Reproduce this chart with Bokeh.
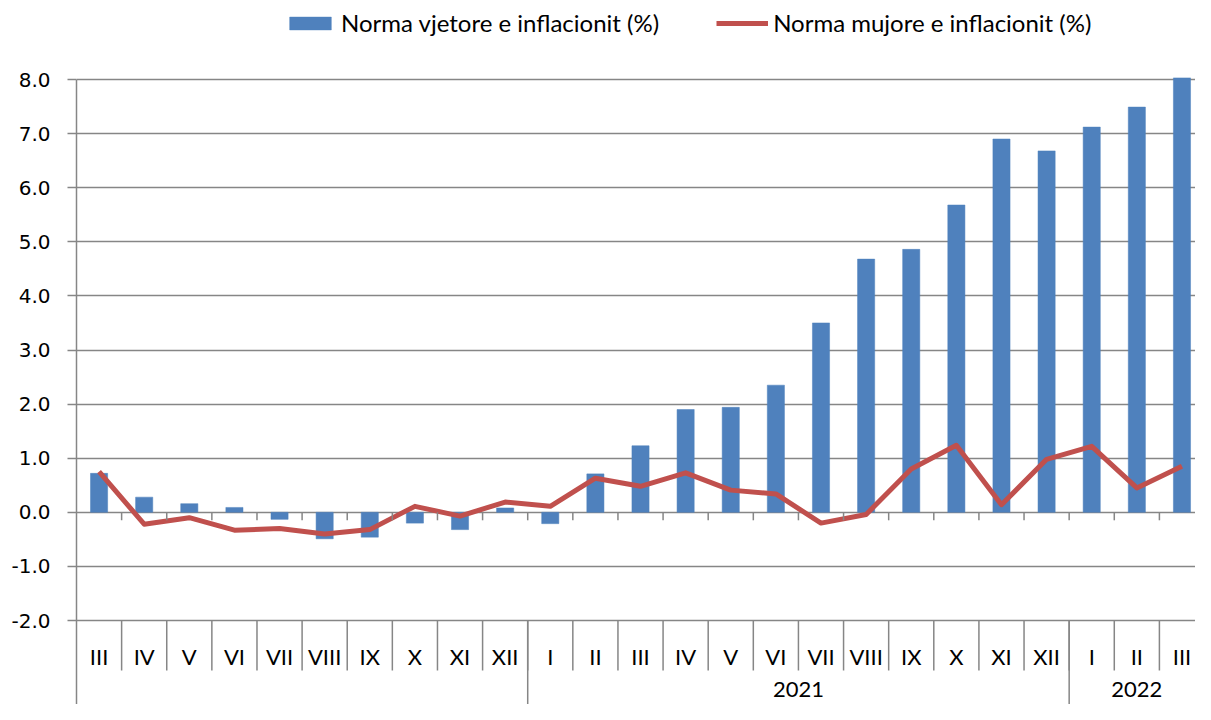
from bokeh.plotting import figure
from bokeh.models import Range1d, FixedTicker, ColumnDataSource, CustomJSTickFormatter
from bokeh.core.properties import value
from bokeh.embed import file_html
from bokeh.resources import INLINE

months = ["III", "IV", "V", "VI", "VII", "VIII", "IX", "X", "XI", "XII",
          "I", "II", "III", "IV", "V", "VI", "VII", "VIII", "IX", "X", "XI", "XII",
          "I", "II", "III"]
annual = [0.72, 0.28, 0.16, 0.09, -0.13, -0.49, -0.46, -0.20, -0.32, 0.08,
          -0.21, 0.71, 1.23, 1.90, 1.94, 2.35, 3.50, 4.68, 4.86, 5.68, 6.90, 6.68,
          7.12, 7.49, 8.03]
monthly = [0.75, -0.22, -0.10, -0.33, -0.30, -0.40, -0.32, 0.11, -0.07, 0.19,
           0.11, 0.63, 0.48, 0.73, 0.41, 0.34, -0.20, -0.04, 0.80, 1.24, 0.14, 0.98,
           1.22, 0.45, 0.85]
year_labels = ["2021", "2022"]
year_sizes = [10, 12, 3]  # 2020 (unlabelled), 2021, 2022
y_ticks = [-2, -1, 0, 1, 2, 3, 4, 5, 6, 7, 8]

n = len(months)
xs = [i + 0.5 for i in range(n)]

GRID = "#868686"
PX = 54.1  # pixels per unit
H = 704
Y_TOP = 8 + 79 / PX
Y_BOT = -2 - (H - 620) / PX

p = figure(width=1195, height=H, output_backend="svg", toolbar_location=None,
           x_axis_type=None,
           x_range=Range1d(0, 24.8), y_range=Range1d(Y_BOT, Y_TOP))
p.min_border = 0
p.min_border_left = 76
p.min_border_right = 0
p.outline_line_color = None
p.background_fill_color = "white"

p.xgrid.visible = False
p.ygrid.ticker = FixedTicker(ticks=y_ticks)
p.ygrid.grid_line_color = GRID
p.ygrid.grid_line_width = 1.5

ya = p.yaxis[0]
ya.ticker = FixedTicker(ticks=y_ticks)
ya.bounds = (Y_BOT, 8)
ya.axis_line_color = GRID
ya.axis_line_width = 1.5
ya.major_tick_line_color = GRID
ya.major_tick_line_width = 1.5
ya.major_tick_out = 9
ya.major_tick_in = 0
ya.minor_tick_line_color = None
ya.major_label_standoff = 17
ya.major_label_text_font = "DejaVu Sans"
ya.major_label_text_font_size = "20px"
ya.major_label_text_color = "black"
ya.formatter = CustomJSTickFormatter(code="return tick.toFixed(1);")

src = ColumnDataSource(dict(x=xs, annual=annual, monthly=monthly, m=months))

p.vbar(x="x", top="annual", bottom=0, width=0.38, source=src,
       fill_color="#4F81BD", line_color="#4F81BD", line_width=0.5,
       legend_label="Norma vjetore e inflacionit (%)")
p.line(x="x", y="monthly", source=src, line_color="#C0504D", line_width=5,
       line_join="round", legend_label="Norma mujore e inflacionit (%)")

# tick marks on the zero line at category boundaries
bnd = list(range(1, n))
p.segment(x0=bnd, y0=[0] * len(bnd), x1=bnd, y1=[-8 / PX] * len(bnd),
          line_color=GRID, line_width=1.5)

# month-row separators
p.segment(x0=bnd, y0=[-2] * len(bnd), x1=bnd, y1=[-2 - 50 / PX] * len(bnd),
          line_color=GRID, line_width=1.5)

# year separators
cum = []
s = 0
for sz in year_sizes[:-1]:
    s += sz
    cum.append(s)
p.segment(x0=cum, y0=[-2] * len(cum), x1=cum, y1=[Y_BOT] * len(cum),
          line_color=GRID, line_width=1.5)

# month labels
p.text(x="x", y=-2 - (656 - 620) / PX, text="m", source=src,
       text_font=value("Lato"), text_font_size="22px", text_color="black",
       text_align="center", text_baseline="middle")

# year labels (first group has no label)
yc = []
start = year_sizes[0]
for sz in year_sizes[1:]:
    yc.append(start + sz / 2)
    start += sz
p.text(x=yc, y=[-2 - (689 - 620) / PX] * len(yc), text=year_labels,
       text_font=value("Lato"), text_font_size="22px", text_color="black",
       text_align="center", text_baseline="middle")

lg = p.legend[0]
lg.location = (208, 667)
lg.orientation = "horizontal"
lg.padding = 0
lg.margin = 0
lg.spacing = 57
lg.glyph_width = 52
lg.glyph_height = 16
lg.label_standoff = 5
lg.label_text_font = "Lato"
lg.label_text_font_size = "24px"
lg.label_text_color = "black"
lg.border_line_color = None
lg.background_fill_alpha = 0

open("out.html", "w").write(file_html(p, INLINE))
